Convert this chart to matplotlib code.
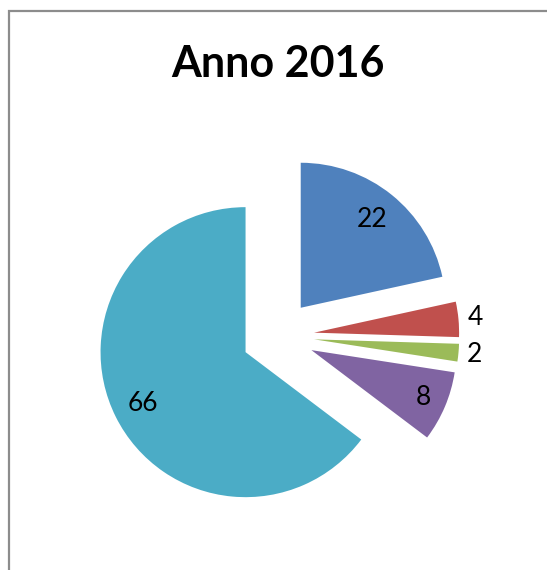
import numpy as np
import matplotlib.pyplot as plt
from matplotlib.patches import Rectangle

# data
values = [22, 4, 2, 8, 66]
colors = ['#4F81BD', '#C0504D', '#9BBB59', '#8064A2', '#4BACC6']
label_dist = [0.78, 1.12, 1.11, 0.84, 0.79]  # inside / outside placement
title = 'Anno 2016'

W, H = 547, 570
R = 145.0          # pie radius in px
cx, cy = 278, 336  # pie centre in px (from top-left)

fig = plt.figure(figsize=(W / 100, H / 100), dpi=100)
ax = fig.add_axes([0, 0, 1, 1])

wedges, _ = ax.pie(values, colors=colors, startangle=90, counterclock=False,
                   explode=[0.25] * len(values), radius=1,
                   wedgeprops=dict(linewidth=0))

ax.set_xlim(-cx / R, (W - cx) / R)
ax.set_ylim(-(H - cy) / R, cy / R)
ax.axis('off')

# data labels
for w, v, d in zip(wedges, values, label_dist):
    mid = np.deg2rad((w.theta1 + w.theta2) / 2)
    ox, oy = w.center
    ax.text(ox + d * np.cos(mid), oy + d * np.sin(mid), str(v),
            ha='center', va='center', fontsize=19, family='Lato', color='black')

fig.text(cx / W, 1 - 64 / H, title, ha='center', va='center',
         fontsize=31, fontweight='bold', family='Lato')

# chart border (right/bottom edges are cut off in the reference)
fig.add_artist(Rectangle((8.5 / W, -0.1), 2, 1.1 - 11 / H, fill=False,
                         edgecolor='#8c8c8c', linewidth=1.6,
                         transform=fig.transFigure))

fig.savefig('out.png', dpi=100, facecolor='white')
